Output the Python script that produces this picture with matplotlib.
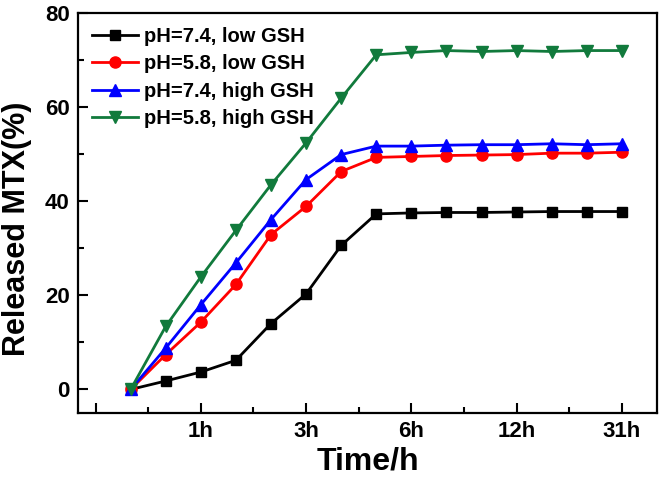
import numpy as np
import matplotlib
matplotlib.use("Agg")
import matplotlib.pyplot as plt
from matplotlib.ticker import FixedLocator

plt.rcParams['font.family'] = ['Liberation Sans', 'DejaVu Sans']
plt.rcParams['font.weight'] = 'bold'

## data (15 sampling points, categorical x)
x_idx = np.arange(15)
tick_pos = [-1, 2, 5, 8, 11, 14]
tick_labels = ['', '1h', '3h', '6h', '12h', '31h']

low_74 = [0, 1.8, 3.7, 6.2, 14.0, 20.3, 30.6, 37.3, 37.5, 37.6, 37.6, 37.7, 37.8, 37.8, 37.8]
low_58 = [0, 7.4, 14.3, 22.3, 32.9, 38.9, 46.3, 49.3, 49.5, 49.7, 49.8, 49.9, 50.2, 50.2, 50.4]
high_74 = [0, 8.8, 18.0, 26.9, 36.1, 44.6, 49.9, 51.7, 51.7, 51.9, 52.0, 52.0, 52.2, 52.0, 52.2]
high_58 = [0, 13.4, 23.9, 33.8, 43.5, 52.4, 61.9, 71.1, 71.6, 72.0, 71.8, 72.0, 71.8, 72.0, 72.0]

labels = ['pH=7.4, low GSH', 'pH=5.8, low GSH', 'pH=7.4, high GSH', 'pH=5.8, high GSH']

fig = plt.figure(figsize=(6.61, 4.78), dpi=100)
ax = fig.add_axes([0.118, 0.136, 0.876, 0.837])

ax.plot(x_idx, low_74, color='black', marker='s', ms=6.5, lw=2, label=labels[0])
ax.plot(x_idx, low_58, color='#ff0000', marker='o', ms=8, lw=2, label=labels[1])
ax.plot(x_idx, high_74, color='#0000ff', marker='^', ms=8.5, lw=2, label=labels[2])
ax.plot(x_idx, high_58, color='#117a3c', marker='v', ms=8.5, lw=2, label=labels[3])

ax.set_xlim(-1.5, 15)
ax.set_ylim(-5, 80)
ax.xaxis.set_major_locator(FixedLocator(tick_pos))
ax.set_xticklabels(tick_labels)
ax.xaxis.set_minor_locator(FixedLocator([0.5, 3.5, 6.5, 9.5, 12.5]))
ax.set_yticks([0, 20, 40, 60, 80])
ax.yaxis.set_minor_locator(FixedLocator([10, 30, 50, 70]))

ax.tick_params(which='both', direction='in', width=1.5, labelsize=16, top=False, right=False)
ax.tick_params(which='major', length=7, pad=6)
ax.tick_params(which='minor', length=4)
for s in ax.spines.values():
    s.set_linewidth(1.6)

ax.set_xlabel('Time/h', fontsize=23, fontweight='bold', labelpad=3)
ax.set_ylabel('Released MTX(%)', fontsize=22, fontweight='bold')
ax.yaxis.set_label_coords(-0.079, 0.46)

ax.legend(loc='upper left', frameon=False, fontsize=14.5, handlelength=2.3,
          handletextpad=0.3, labelspacing=0.42, borderaxespad=0.3,
          bbox_to_anchor=(0.0, 1.0))

fig.savefig('out.png', dpi=100)
